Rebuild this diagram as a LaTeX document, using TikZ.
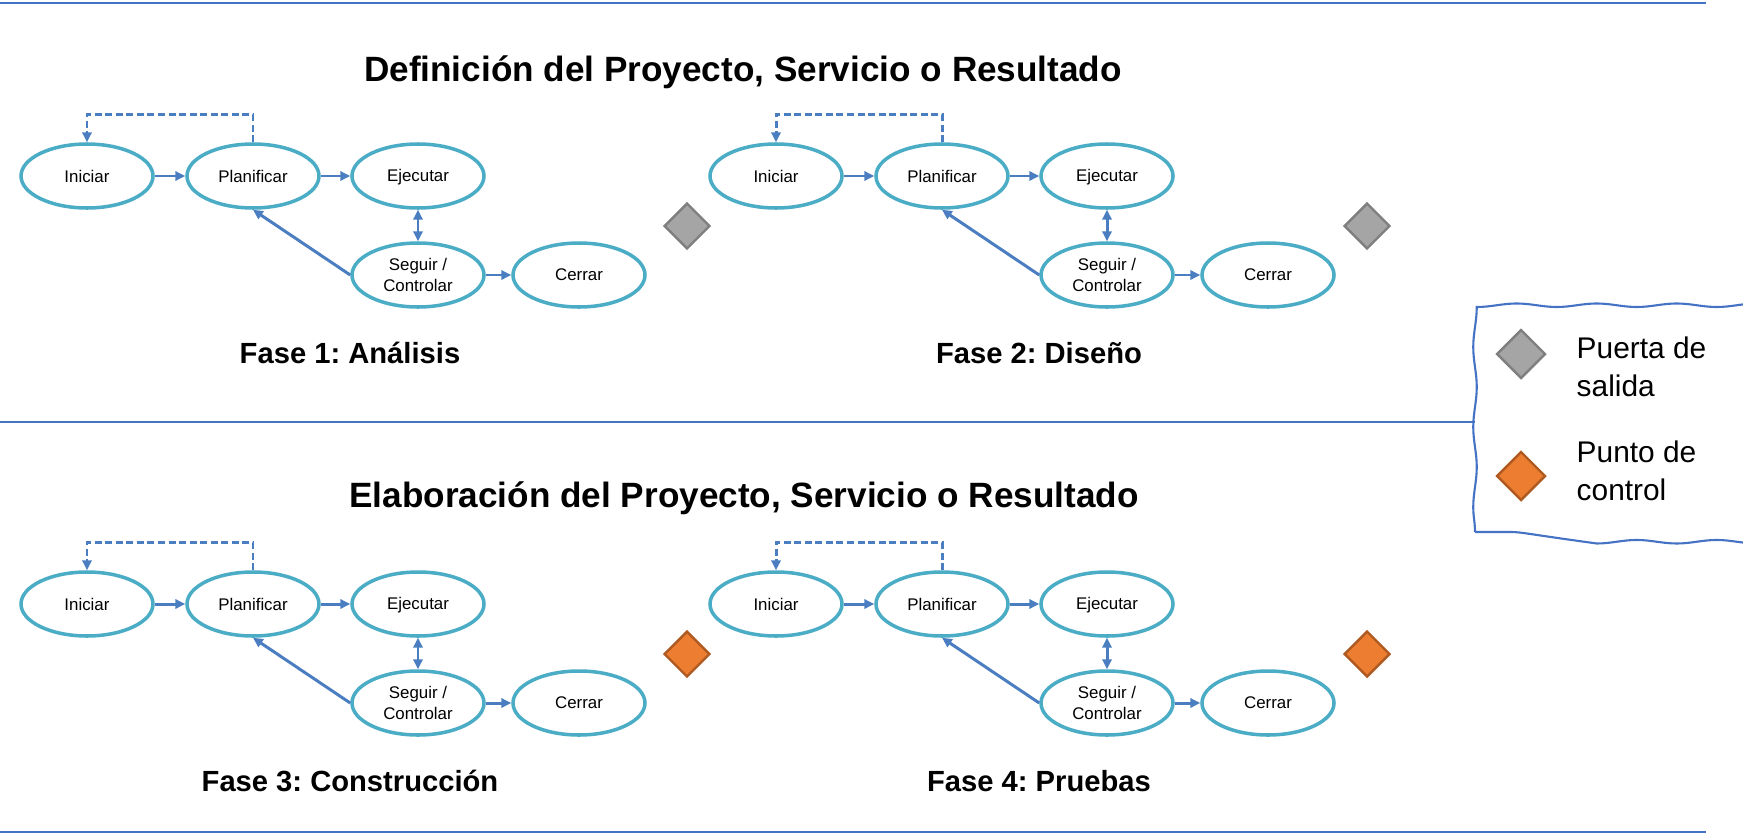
\documentclass[tikz,border=0pt]{standalone}
\usepackage{fontspec}
\setmainfont{Liberation Sans}
\usetikzlibrary{arrows.meta,shapes.geometric,decorations.pathmorphing}
\frenchspacing
\definecolor{elcol}{RGB}{75,172,198}
\definecolor{arcol}{RGB}{74,126,193}
\definecolor{lncol}{RGB}{68,114,196}
\definecolor{gatefill}{RGB}{165,165,165}
\definecolor{gatedraw}{RGB}{127,127,127}
\definecolor{ctrlfill}{RGB}{237,125,49}
\definecolor{ctrldraw}{RGB}{174,90,33}
\tikzset{
  activity/.style={ellipse,draw=elcol,line width=1pt,fill=white,minimum width=1.32cm,minimum height=0.64cm,inner sep=0pt,align=center,font=\fontsize{4.8}{6.2}\selectfont},
  flow/.style={draw=arcol,line width=0.85pt,->},
  gate/.style={diamond,draw=gatedraw,fill=gatefill,line width=0.7pt,minimum size=0.46cm,inner sep=0pt},
  ctrl/.style={diamond,draw=ctrldraw,fill=ctrlfill,line width=0.7pt,minimum size=0.46cm,inner sep=0pt},
  heading/.style={font=\fontsize{10}{12}\bfseries},
  phase/.style={font=\fontsize{8.3}{10}\bfseries},
  keytext/.style={anchor=west,align=left,inner sep=0pt,font=\fontsize{8.5}{10.8}\selectfont},
  rule/.style={draw=lncol,line width=0.6pt}
}
\begin{document}
\begin{tikzpicture}[>={Triangle[length=2.8pt,width=2.6pt]}]
    \useasboundingbox (0,0) rectangle (17.43,8.36);
    \draw[rule] (0,8.33) -- (17.06,8.33);
    \draw[rule] (0,4.14) -- (14.75,4.14);
    \draw[rule] (0,0.04) -- (17.06,0.04);
    \node[heading] (def) at (7.43,7.64) {Definición del Proyecto, Servicio o Resultado};
    \node[heading] (ela) at (7.44,3.38) {Elaboración del Proyecto, Servicio o Resultado};
    \foreach \dx/\dy/\gx/\n/\g/\fase in {0/0/6.87/1/gate/{Fase 1: Análisis},6.89/0/6.78/2/gate/{Fase 2: Diseño},0/-4.28/6.87/3/ctrl/{Fase 3: Construcción},6.89/-4.28/6.78/4/ctrl/{Fase 4: Pruebas}}{
    \begin{scope}[shift={(\dx,\dy)}]
    \node[activity] (ini\n) at (0.87,6.60) {Iniciar};
    \node[activity] (pla\n) at (2.53,6.60) {Planificar};
    \node[activity] (eje\n) at (4.18,6.60) {E\smash{j}ecutar};
    \node[activity] (seg\n) at (4.18,5.61) {Seguir /\\Controlar};
    \node[activity] (cer\n) at (5.79,5.61) {Cerrar};
    \node[\g] (gd\n) at (\gx,6.10) {};
    \node[phase] (fase\n) at (3.50,4.83) {\fase};
    \draw[flow] (ini\n) -- (pla\n);
    \draw[flow] (pla\n) -- (eje\n);
    \draw[flow,<->] (eje\n) -- (seg\n);
    \draw[flow] (seg\n.west) -- (pla\n.south);
    \draw[flow] (seg\n) -- (cer\n);
    \draw[flow,dash pattern=on 2pt off 1pt] (pla\n.north) -- ++(0,0.28) -| (ini\n.north);
    \end{scope}
    }
    % legend
    \draw[rule,decorate,decoration={snake,segment length=0.8cm,amplitude=0.5pt}] (14.75,3.04) rectangle (17.33,5.29);
    \node[gate,minimum size=0.49cm] (gatekey) at (15.21,4.82) {};
    \node[keytext] (gatetxt) at (15.76,4.69) {Puerta de\\salida};
    \node[ctrl,minimum size=0.49cm] (ctrlkey) at (15.21,3.60) {};
    \node[keytext] (ctrltxt) at (15.76,3.65) {Punto de\\control};
\end{tikzpicture}
\end{document}
